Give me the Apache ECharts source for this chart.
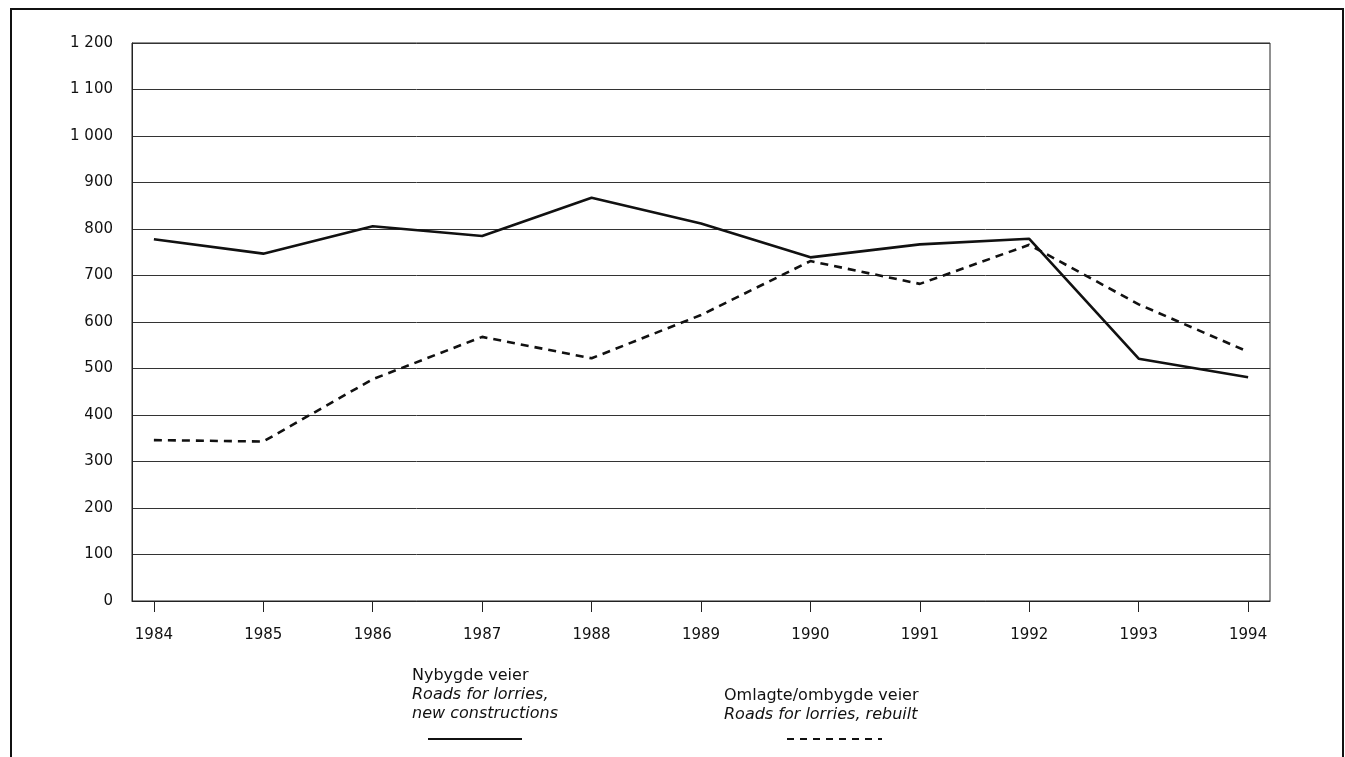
<!DOCTYPE html>
<html>
<head>
<meta charset="utf-8">
<script src="https://cdn.jsdelivr.net/npm/echarts@6/dist/echarts.min.js"></script>
<style>
  html, body { margin: 0; padding: 0; background: #fff; }
  #chart { width: 1345px; height: 757px; }
</style>
</head>
<body>
<div id="chart"></div>
<script>
var years = [1984, 1985, 1986, 1987, 1988, 1989, 1990, 1991, 1992, 1993, 1994];
// Nybygde veier / new constructions
var nybygde = [778, 747, 806, 785, 867, 812, 739, 767, 779, 521, 481];
// Omlagte/ombygde veier / rebuilt
var omlagte = [346, 343, 477, 568, 522, 615, 731, 682, 766, 638, 536];

var font = '"DejaVu Sans", Arial, sans-serif';

function pairs(vals) {
  return years.map(function (y, i) { return [y, vals[i]]; });
}

var chart = echarts.init(document.getElementById('chart'));
chart.setOption({
  animation: false,
  backgroundColor: '#fff',
  grid: {
    left: 132, right: 75, top: 43, bottom: 156,
    show: true, borderColor: '#222', borderWidth: 1
  },
  xAxis: {
    type: 'value',
    min: 1983.8,
    max: 1994.2,
    axisLine: { show: true, lineStyle: { color: '#222', width: 1 } },
    axisTick: { show: true, length: 11, customValues: years, lineStyle: { color: '#222' } },
    axisLabel: {
      customValues: years,
      margin: 27,
      color: '#111',
      fontFamily: font,
      fontSize: 15,
      formatter: function (v) { return String(v); }
    },
    splitLine: { show: false }
  },
  yAxis: {
    type: 'value',
    min: 0,
    max: 1200,
    interval: 100,
    axisLine: { show: true, lineStyle: { color: '#222', width: 1 } },
    axisTick: { show: false },
    axisLabel: {
      margin: 19,
      color: '#111',
      fontFamily: font,
      fontSize: 15,
      formatter: function (v) {
        return String(v).replace(/\B(?=(\d{3})+(?!\d))/g, ' ');
      }
    },
    splitLine: { show: true, lineStyle: { color: '#333', width: 1 } }
  },
  series: [
    {
      name: 'Nybygde veier',
      type: 'line',
      data: pairs(nybygde),
      symbol: 'none',
      lineStyle: { color: '#111', width: 2.6 }
    },
    {
      name: 'Omlagte/ombygde veier',
      type: 'line',
      data: pairs(omlagte),
      symbol: 'none',
      lineStyle: { color: '#111', width: 2.6, type: [8, 6] }
    }
  ],
  graphic: [
    // outer frame
    { type: 'rect', shape: { x: 11, y: 9, width: 1332, height: 800 },
      style: { fill: 'none', stroke: '#111', lineWidth: 2 } },
    // legend: new constructions
    { type: 'text', left: 412, top: 668,
      style: { text: 'Nybygde veier', font: '16px ' + font, fill: '#111' } },
    { type: 'text', left: 412, top: 687,
      style: { text: 'Roads for lorries,', font: 'italic 16px ' + font, fill: '#111' } },
    { type: 'text', left: 412, top: 706,
      style: { text: 'new constructions', font: 'italic 16px ' + font, fill: '#111' } },
    { type: 'line', shape: { x1: 428, y1: 739, x2: 522, y2: 739 },
      style: { stroke: '#111', lineWidth: 2 } },
    // legend: rebuilt
    { type: 'text', left: 724, top: 688,
      style: { text: 'Omlagte/ombygde veier', font: '16px ' + font, fill: '#111' } },
    { type: 'text', left: 724, top: 707,
      style: { text: 'Roads for lorries, rebuilt', font: 'italic 16px ' + font, fill: '#111' } },
    { type: 'line', shape: { x1: 787, y1: 739, x2: 882, y2: 739 },
      style: { stroke: '#111', lineWidth: 2, lineDash: [7, 6] } }
  ]
});
</script>
</body>
</html>
